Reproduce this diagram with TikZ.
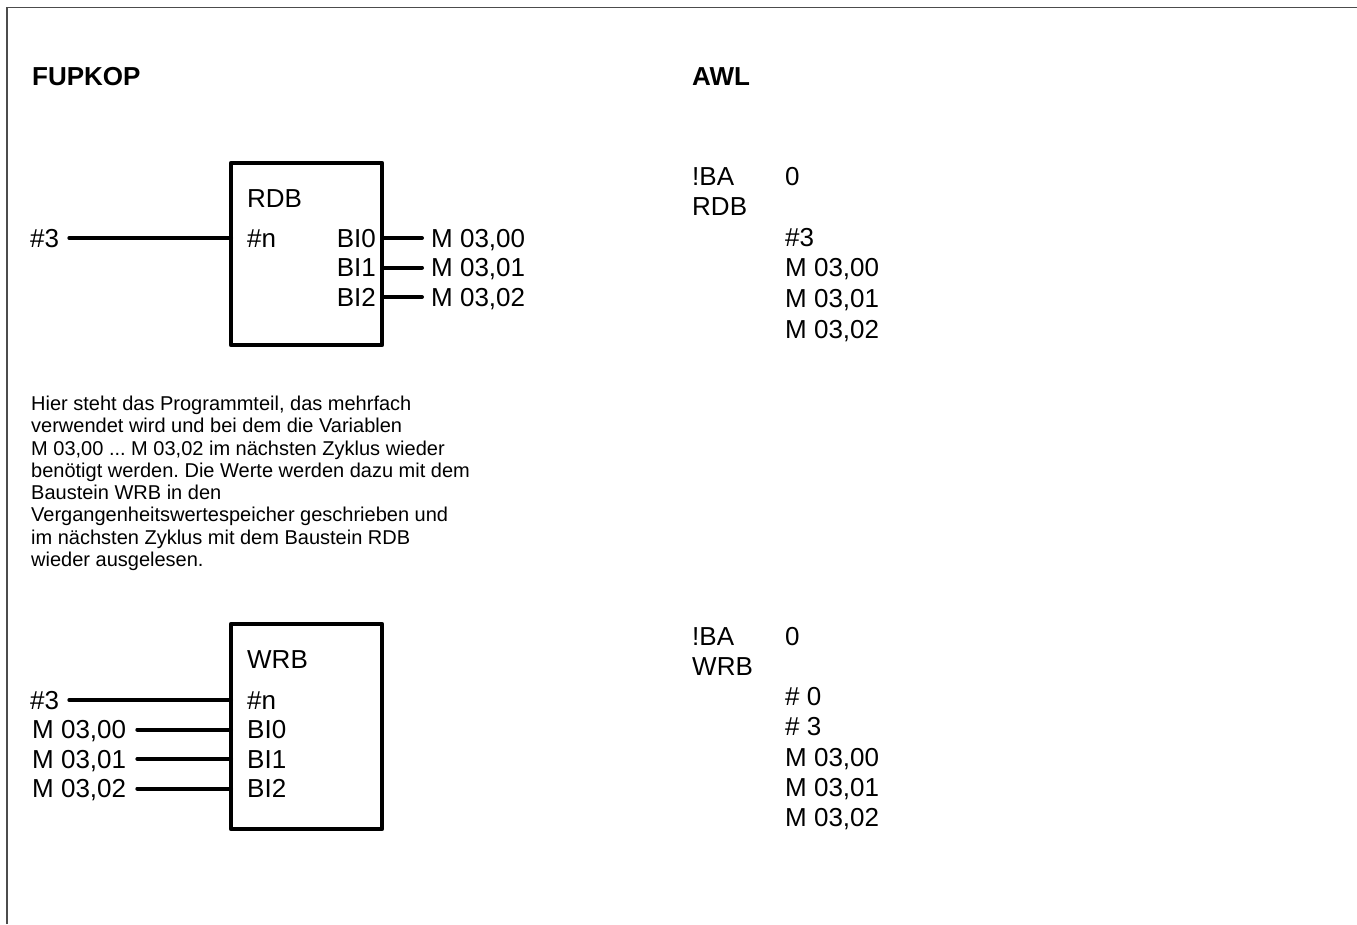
\documentclass[tikz,border=0pt]{standalone}
\usepackage{fontspec}
\setmainfont{Liberation Sans}
\usetikzlibrary{calc}
\definecolor{FrameClr}{rgb}{0.3,0.3,0.3}
\frenchspacing

\begin{document}
\begin{tikzpicture}[x=1pt,y=-1pt,
  txt/.style={font=\fontsize{26}{30}\selectfont,inner sep=0pt,text height=18.6pt,text depth=0pt},
  awl/.style={font=\fontsize{26}{30}\selectfont,inner sep=0pt,anchor=base west},
  head/.style={font=\bfseries\fontsize{26}{30}\selectfont,inner sep=0pt,anchor=base west},
  wire/.style={line width=4pt,line cap=round},
  fbox/.style={draw,line width=4.5pt,line join=round,minimum width=151pt,inner sep=0pt,outer sep=0pt}]

\useasboundingbox (0,0) rectangle (1357,924);
\draw[FrameClr,line width=1.5pt] (7,924) -- (7,7.5) -- (1357,7.5);

\node[head] (FUP) at (32,85) {FUPKOP};
\node[head] (AWL) at (692,85) {AWL};

% RDB block
\node[fbox,minimum height=182pt] (R) at (306.5,254) {};
\node[txt,anchor=west] (Rname) at (247,197.7) {RDB};
\node[txt,anchor=west] (Rn) at (247,238) {\#n};
\node[txt,anchor=east] (RB0) at (376,238) {BI0};
\node[txt,anchor=east] (RB1) at (376,267.5) {BI1};
\node[txt,anchor=east] (RB2) at (376,297) {BI2};

\node[txt,anchor=west] (R3) at (30,238) {\#3};
\node[txt,anchor=west] (RM0) at (431,238) {M 03,00};
\node[txt,anchor=west] (RM1) at (431,267.5) {M 03,01};
\node[txt,anchor=west] (RM2) at (431,297) {M 03,02};

\draw[wire] ([xshift=10pt]R3.east) -- (R3 -| R.west);
\draw[wire] (RB0 -| R.east) -- ([xshift=-9pt]RM0.west);
\draw[wire] (RB1 -| R.east) -- ([xshift=-9pt]RM1.west);
\draw[wire] (RB2 -| R.east) -- ([xshift=-9pt]RM2.west);

% base of a multi-line node = its last line
\node[anchor=base west,inner sep=0pt,align=left,font=\fontsize{20}{22.3}\selectfont] (Txt) at (31,566.5)
  {Hier steht das Programmteil, das mehrfach\\
   verwendet wird und bei dem die Variablen\\
   M 03,00 ... M 03,02 im nächsten Zyklus wieder\\
   benötigt werden. Die Werte werden dazu mit dem\\
   Baustein WRB in den\\
   Vergangenheitswertespeicher geschrieben und\\
   im nächsten Zyklus mit dem Baustein RDB\\
   wieder ausgelesen.};

% WRB block
\node[fbox,minimum height=205pt] (W) at (306.5,726.5) {};
\node[txt,anchor=west] (Wname) at (247,658.7) {WRB};
\node[txt,anchor=west] (Wn) at (247,700) {\#n};
\node[txt,anchor=west] (WB0) at (247,729.5) {BI0};
\node[txt,anchor=west] (WB1) at (247,759) {BI1};
\node[txt,anchor=west] (WB2) at (247,788.5) {BI2};

\node[txt,anchor=west] (W3) at (30,700) {\#3};
\node[txt,anchor=west] (WM0) at (32,729.5) {M 03,00};
\node[txt,anchor=west] (WM1) at (32,759) {M 03,01};
\node[txt,anchor=west] (WM2) at (32,788.5) {M 03,02};

\draw[wire] ([xshift=10pt]W3.east) -- (W3 -| W.west);
\draw[wire] ([xshift=11pt]WM0.east) -- (WM0 -| W.west);
\draw[wire] ([xshift=11pt]WM1.east) -- (WM1 -| W.west);
\draw[wire] ([xshift=11pt]WM2.east) -- (WM2 -| W.west);

% AWL listing
\node[awl] (RBA) at (692,185) {!BA};
\node[awl] (RBA0) at (785,185) {0};
\node[awl] (Rcmd) at (692,215.6) {RDB};
\node[awl] (Ra1) at (785,246.2) {\#3};
\node[awl] (Ra2) at (785,276.8) {M 03,00};
\node[awl] (Ra3) at (785,307.4) {M 03,01};
\node[awl] (Ra4) at (785,338) {M 03,02};

\node[awl] (WBA) at (692,645) {!BA};
\node[awl] (WBA0) at (785,645) {0};
\node[awl] (Wcmd) at (692,675.3) {WRB};
\node[awl] (Wa1) at (785,705.6) {\# 0};
\node[awl] (Wa2) at (785,735.9) {\# 3};
\node[awl] (Wa3) at (785,766.2) {M 03,00};
\node[awl] (Wa4) at (785,796.5) {M 03,01};
\node[awl] (Wa5) at (785,826.8) {M 03,02};

\end{tikzpicture}
\end{document}
